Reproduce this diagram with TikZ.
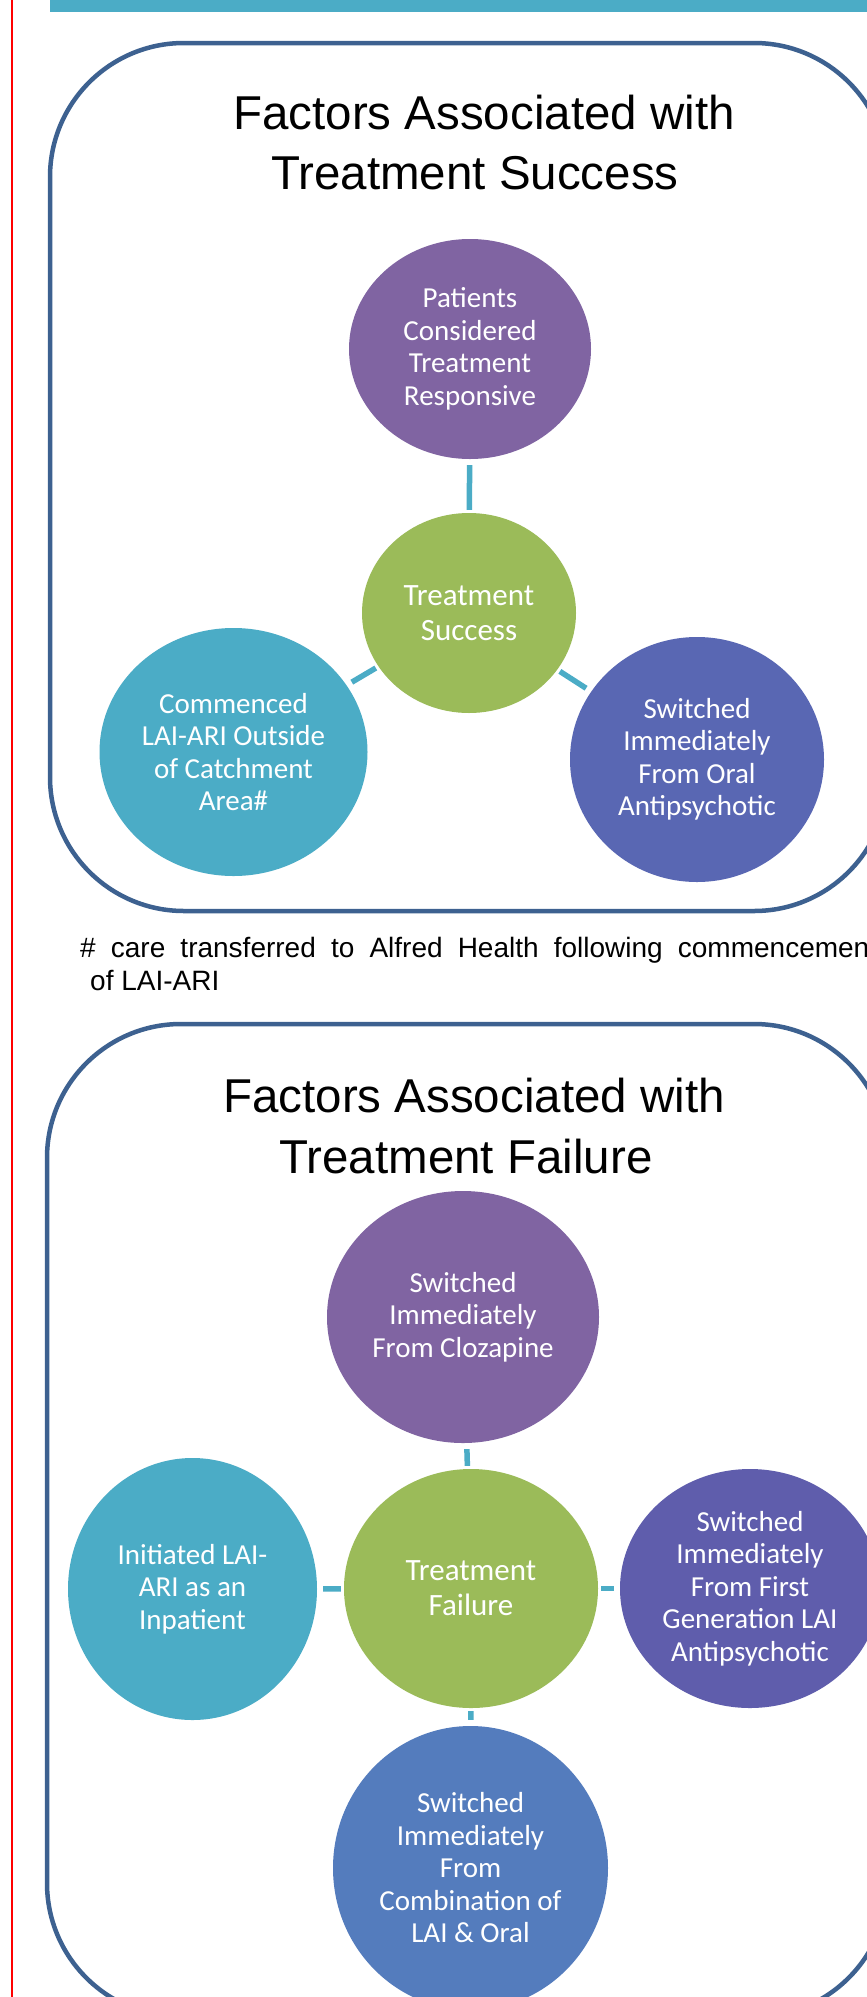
\documentclass[tikz,border=0pt]{standalone}
\usepackage{fontspec}
\setmainfont{Liberation Sans}
\newfontfamily\circfont{Carlito}
\usetikzlibrary{shapes.geometric}
\definecolor{cpurple}{HTML}{8064A2}
\definecolor{cgreen}{HTML}{9BBB59}
\definecolor{cteal}{HTML}{4BACC6}
\definecolor{cblueA}{HTML}{5967B3}
\definecolor{cblueB}{HTML}{5F5DAC}
\definecolor{cblueC}{HTML}{547CBD}
\definecolor{cborder}{HTML}{3D6190}
\begin{document}
\begin{tikzpicture}[x=1pt,y=-1pt,
  bubble/.style={ellipse, inner sep=0pt, text=white, align=center, font=\circfont\fontsize{29}{32.5}\selectfont},
  hub/.style={bubble, fill=cgreen, font=\circfont\fontsize{31}{35}\selectfont},
  sz/.style 2 args={minimum width=#1pt, minimum height=#2pt},
  conn/.style={draw=cteal, line width=5.5pt, shorten <=3pt, shorten >=6pt},
  frame/.style={draw=cborder, line width=4.5pt, rounded corners=134pt},
  title/.style={font=\fontsize{47.5}{57}\selectfont, anchor=base, inner sep=0pt},
  note/.style={font=\fontsize{28}{32}\selectfont, anchor=base west, inner sep=0pt}]
\clip (0,0) rectangle (867,1997);
\fill[white] (0,0) rectangle (867,1997);
\fill[cteal] (50,0) rectangle (867,12);
\draw[red, line width=1.5pt] (12,0) -- (12,1997);
% frames
\draw[frame] (50,43) rectangle (888,911);
\draw[frame] (47,1024) rectangle (888,2017);
% titles
\node[title] (ta1) at (484,129) {Factors Associated with};
\node[title] (ta2) at (475,189) {Treatment Success};
\node[title] (tb1) at (474,1112) {Factors Associated with};
\node[title] (tb2) at (466,1173) {Treatment Failure};
% top diagram
\node[bubble, fill=cpurple, sz={242}{220}] (p1) at (470,349) {Patients\\Considered\\Treatment\\Responsive};
\node[hub, sz={214}{200}] (g1) at (469,613) {Treatment\\Success};
\node[bubble, fill=cteal, sz={268}{248}] (t1) at (233.5,752) {Commenced\\LAI-ARI Outside\\of Catchment\\Area\#};
\node[bubble, fill=cblueA, sz={254}{245}] (b1) at (697,759.5) {Switched\\Immediately\\From Oral\\Antipsychotic};
\draw[conn] (g1) -- (p1);
\draw[conn] (g1) -- (t1);
\draw[conn] (g1) -- (b1);
% footnote
\node[note] (fn1) at (80,957) {\makebox[797pt][s]{\# care transferred to Alfred Health following commencement}};
\node[note] (fn2) at (90,990) {of LAI-ARI};
% bottom diagram
\node[bubble, fill=cpurple, sz={272}{252}] (p2) at (463,1317) {Switched\\Immediately\\From Clozapine};
\node[hub, sz={254}{239}] (g2) at (471,1588.5) {Treatment\\Failure};
\node[bubble, fill=cteal, sz={249}{262}] (t2) at (192.5,1589) {Initiated LAI-\\ARI as an\\Inpatient};
\node[bubble, fill=cblueB, sz={260}{239}] (r2) at (750,1588.5) {Switched\\Immediately\\From First\\Generation LAI\\Antipsychotic};
\node[bubble, fill=cblueC, sz={275}{284}] (b2) at (470.5,1868) {Switched\\Immediately\\From\\Combination of\\LAI \& Oral};
\draw[conn] (g2) -- (p2);
\draw[conn] (g2) -- (t2);
\draw[conn] (g2) -- (r2);
\draw[conn] (g2) -- (b2);
\end{tikzpicture}
\end{document}
